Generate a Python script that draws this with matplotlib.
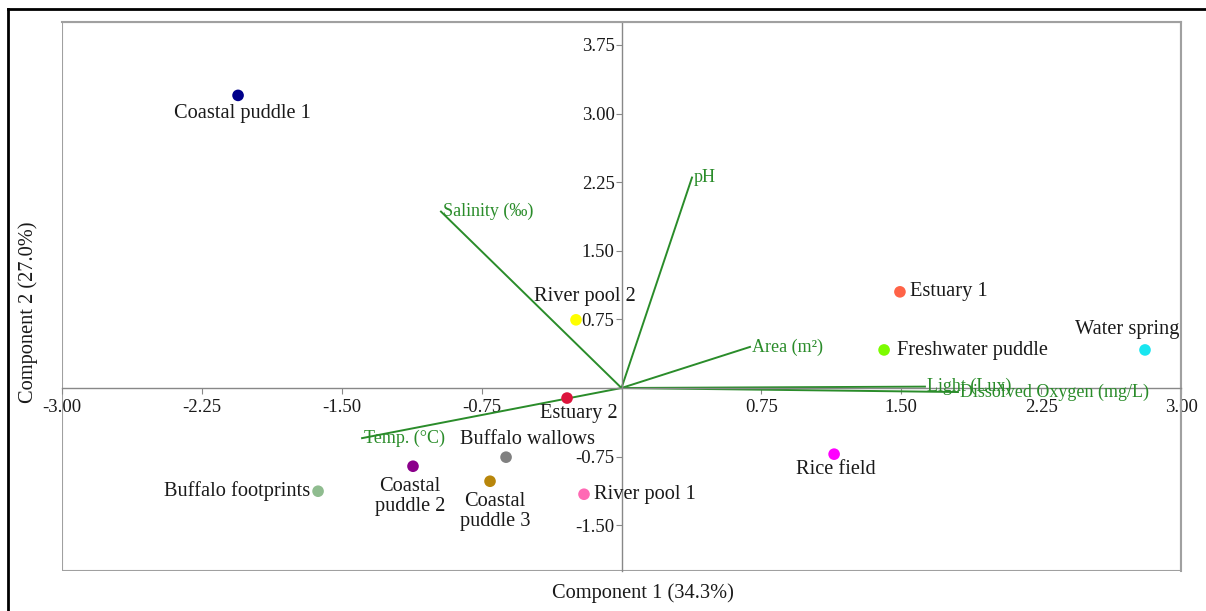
import matplotlib
matplotlib.use("Agg")
import matplotlib.pyplot as plt
from matplotlib.lines import Line2D
from matplotlib.patches import Rectangle
import numpy as np

# site scores (Component 1, Component 2)
sites = ["Coastal puddle 1", "Estuary 1", "Water spring", "Freshwater puddle",
         "River pool 2", "Estuary 2", "Buffalo wallows", "Coastal\npuddle 2",
         "Coastal\npuddle 3", "Buffalo footprints", "River pool 1", "Rice field"]
pc1 = [-2.056, 1.493, 2.807, 1.408, -0.244, -0.292, -0.619, -1.118, -0.705, -1.627, -0.201, 1.140]
pc2 = [3.198, 1.051, 0.416, 0.416, 0.745, -0.110, -0.756, -0.855, -1.019, -1.128, -1.161, -0.723]
site_colors = ["#00008b", "#ff6347", "#19e6f0", "#7cfc00", "#ffff00", "#dc143c",
               "#808080", "#8b008b", "#b8860b", "#8fbc8f", "#ff69b4", "#ff00ff"]

# variable loadings
variables = ["pH", "Salinity (‰)", "Area (m²)", "Light (Lux)", "Dissolved Oxygen (mg/L)", "Temp. (°C)"]
load1 = [0.378, -0.968, 0.689, 1.627, 1.804, -1.391]
load2 = [2.300, 1.928, 0.449, 0.015, -0.044, -0.548]

xticks = [-3.00, -2.25, -1.50, -0.75, 0.75, 1.50, 2.25, 3.00]
yticks = [-1.50, -0.75, 0.75, 1.50, 2.25, 3.00, 3.75]

# label offsets in pixels (dx, dy, ha, va)
label_pos = {
    "Coastal puddle 1": (4, -18, "center", "center"),
    "Estuary 1": (10, 0, "left", "center"),
    "Water spring": (-18, 20, "center", "center"),
    "Freshwater puddle": (13, -1, "left", "center"),
    "River pool 2": (9, 23, "center", "center"),
    "Estuary 2": (12, -15, "center", "center"),
    "Buffalo wallows": (21, 18, "center", "center"),
    "Coastal\npuddle 2": (-3, -30, "center", "center"),
    "Coastal\npuddle 3": (5, -30, "center", "center"),
    "Buffalo footprints": (-8, 0, "right", "center"),
    "River pool 1": (10, 0, "left", "center"),
    "Rice field": (2, -15, "center", "center"),
}

serif = "Liberation Serif"
axis_gray = "#a0a0a0"
vec_green = "#2a8c2a"
text_col = "#1a1a1a"

fig = plt.figure(figsize=(12.06, 6.11), dpi=100)
ax = fig.add_axes([62/1206, 1 - 571/611, (1181-62)/1206, (571-22)/611])

ax.set_xlim(-3.0, 3.0)
ax.set_ylim(-2.0, 4.0)

# axes through origin
for side in ["left", "bottom"]:
    ax.spines[side].set_position(("data", 0))
    ax.spines[side].set_color("#888888")
    ax.spines[side].set_linewidth(1.0)
for side in ["right", "top"]:
    ax.spines[side].set_color(axis_gray)
    ax.spines[side].set_linewidth(1.5)
ax.add_patch(Rectangle((0, 0), 1, 1, transform=ax.transAxes, fill=False,
                       edgecolor=axis_gray, linewidth=1.5, zorder=0))

ax.set_xticks(xticks)
ax.set_yticks(yticks)
ax.set_xticklabels([f"{t:.2f}" for t in xticks])
ax.set_yticklabels([f"{t:.2f}" for t in yticks])
ax.tick_params(axis="both", direction="out", length=4, width=0.8, color="#888888",
               labelsize=13.5)
ax.tick_params(axis="y", pad=1)
ax.tick_params(axis="x", pad=4)
for lab in ax.get_xticklabels() + ax.get_yticklabels():
    lab.set_fontfamily(serif)
    lab.set_color(text_col)

# loadings
for name, vx, vy in zip(variables, load1, load2):
    ax.plot([0, vx], [0, vy], color=vec_green, linewidth=1.4, zorder=2)
    ax.annotate(name, (vx, vy), xytext=(2, 0), textcoords="offset pixels",
                ha="left", va="center", color=vec_green, fontsize=13,
                fontfamily=serif, zorder=3)

# scores
ax.scatter(pc1, pc2, s=70, c=site_colors, edgecolors="none", zorder=4)
for name, x, y in zip(sites, pc1, pc2):
    dx, dy, ha, va = label_pos[name]
    ax.annotate(name, (x, y), xytext=(dx, dy), textcoords="offset pixels",
                ha=ha, va=va, fontsize=14.7, fontfamily=serif, color=text_col,
                linespacing=1.1, zorder=5)

ax.set_xlabel("Component 1 (34.3%)", fontsize=14.7, fontfamily=serif, color=text_col)
ax.set_ylabel("Component 2 (27.0%)", fontsize=14.7, fontfamily=serif, color=text_col)
ax.xaxis.set_label_coords(0.519, -0.022)
ax.yaxis.set_label_coords(-0.0215, 0.472)

# outer frame (left and top edges)
fig.add_artist(Line2D([8/1206, 8/1206], [0, 1 - 9/611], transform=fig.transFigure,
                      color="black", linewidth=2))
fig.add_artist(Line2D([8/1206, 1], [1 - 9/611, 1 - 9/611], transform=fig.transFigure,
                      color="black", linewidth=2))

fig.savefig("out.png", dpi=100)
